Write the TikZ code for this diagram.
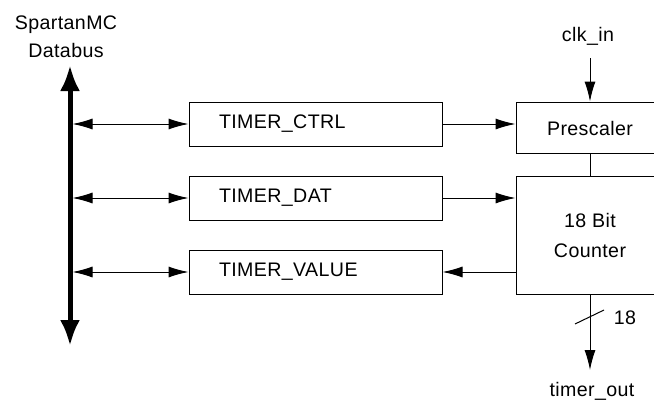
\documentclass[tikz,border=0pt]{standalone}
\usepackage{fontspec}
\setmainfont[LetterSpace=2]{Liberation Sans}
\usetikzlibrary{arrows.meta}

\begin{document}
\begin{tikzpicture}[x=0.5pt,y=-0.5pt,
		font=\fontsize{9.8}{12}\selectfont,
		reg/.style={draw=black,line width=0.5pt,minimum height=22pt,text width=96.5pt,inner xsep=15pt,align=left},
		blk/.style={draw=black,line width=0.5pt,minimum width=74pt,align=center},
		sig/.style={line width=0.5pt,-{Latex[length=10pt,width=5.5pt]}},
		bisig/.style={line width=0.5pt,{Latex[length=10pt,width=5.5pt]}-{Latex[length=10pt,width=5.5pt]}}]
				\clip (0,0) rectangle (654,402);
				
				% databus
				\coordinate (bustop) at (70,65);
				\coordinate (busbot) at (70,346);
				\node[align=center,font=\fontsize{9.8}{14}\selectfont] (busname) at (66,37) {SpartanMC\\Databus};
				\draw[line width=2.5pt,{Latex[length=13pt,width=10pt]}-{Latex[length=13pt,width=10pt]}] (bustop) -- (busbot);
				
				% registers
				\node[reg] (ctrl) at (315.5,124) {TIMER\_CTRL};
				\node[reg] (dat) at (315.5,198) {TIMER\_DAT};
				\node[reg] (value) at (315.5,272) {TIMER\_VALUE};
				
				\coordinate (b1) at (72.5,124);
				\coordinate (b2) at (72.5,198);
				\coordinate (b3) at (72.5,272);
				\path [bisig] (b1) edge (ctrl.west);
				\path [bisig] (b2) edge (dat.west);
				\path [bisig] (b3) edge (value.west);
				
				% prescaler and counter
				\node[blk,minimum height=25.5pt,text height=9.5pt,text depth=1.5pt] (pre) at (590,127.5) {Prescaler};
				\node[blk,minimum height=59pt,font=\fontsize{9.8}{15}\selectfont] (cnt) at (590,235) {18 Bit\\Counter};
				\node (clk) at (588,36) {clk\_in};
				\coordinate (clkin) at (590,58);
				\coordinate (out) at (590,370);
				\node (tout) at (592,391) {timer\_out};
				
				\path [sig] (clkin) edge (pre.north);
				\path [sig] (ctrl.east) edge (ctrl.east -| pre.west);
				\path [sig] (dat.east) edge (dat.east -| cnt.west);
				\path [sig] (value.east -| cnt.west) edge (value.east);
				\draw[line width=0.5pt] (pre.south) -- (cnt.north);
				\path [sig] (cnt.south) edge (out);
				
				% bus width mark
				\coordinate (sl) at (590,317);
				\draw[line width=0.5pt] ([shift={(-15,7)}]sl) -- ([shift={(14,-7)}]sl);
				\node (w) at (625,318) {18};
			\end{tikzpicture}
\end{document}
